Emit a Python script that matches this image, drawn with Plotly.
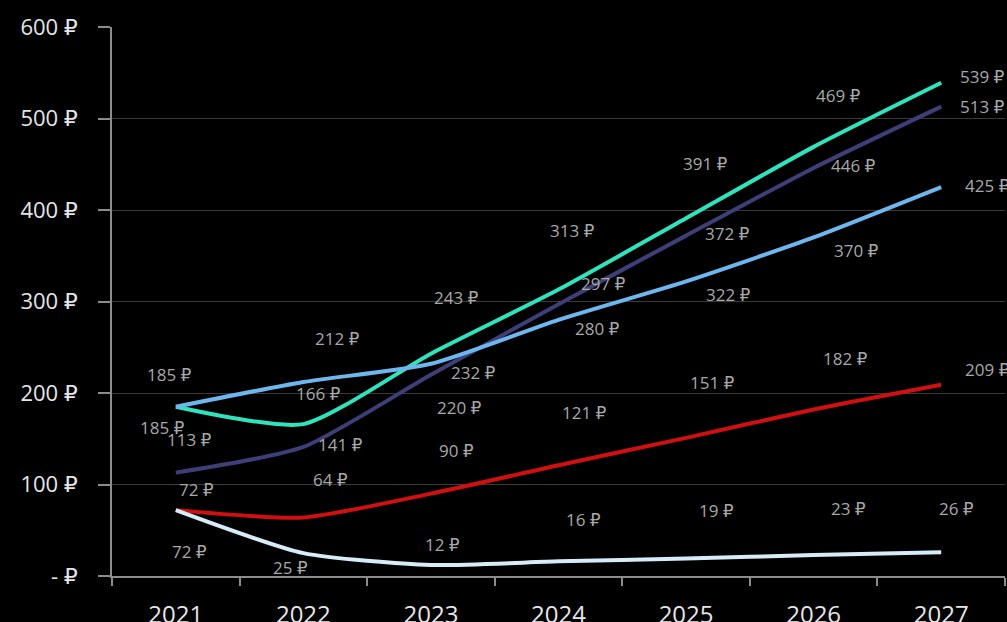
import plotly.graph_objects as go

years = ["2021", "2022", "2023", "2024", "2025", "2026", "2027"]
teal = [185, 166, 243, 313, 391, 469, 539]
navy = [113, 141, 220, 297, 372, 446, 513]
light_blue = [185, 212, 232, 280, 322, 370, 425]
red = [72, 64, 90, 121, 151, 182, 209]
pale = [72, 25, 12, 16, 19, 23, 26]
y_ticks = [0, 100, 200, 300, 400, 500, 600]
y_tick_labels = ["- ₽", "100 ₽", "200 ₽", "300 ₽", "400 ₽", "500 ₽", "600 ₽"]

series = [
    ("teal", teal, "#2fe3bd"),
    ("navy", navy, "#3e3f78"),
    ("light_blue", light_blue, "#6db6ee"),
    ("red", red, "#d01010"),
    ("pale", pale, "#d6ecf8"),
]

# label pixel offsets (dx, dy) relative to each point; dy positive = up
label_offsets = {
    "teal": [(-6, 32), (15, 31), (26, 56), (14, 59), (19, 55), (25, 51), (41, 6)],
    "navy": [(14, 33), (37, 2), (29, -33), (45, 21), (41, 2), (40, 2), (41, 0)],
    "light_blue": [(-13, -21), (34, 44), (43, -9), (39, -9), (42, -13), (43, -13), (46, 2)],
    "red": [(21, 21), (27, 38), (26, 43), (26, 53), (26, 55), (32, 51), (46, 15)],
    "pale": [(14, -41), (-13, -14), (12, 21), (25, 42), (30, 48), (35, 46), (15, 44)],
}

FONT = "Open Sans, DejaVu Sans, sans-serif"

fig = go.Figure()
annotations = []
for name, vals, color in series:
    fig.add_trace(go.Scatter(
        x=years, y=vals, mode="lines", name=name,
        line=dict(color=color, width=4, shape="spline", smoothing=0.6),
        hoverinfo="x+y",
    ))
    for i, v in enumerate(vals):
        dx, dy = label_offsets[name][i]
        annotations.append(dict(
            x=i, y=v, xref="x", yref="y", text=f"{v} ₽", showarrow=False,
            xshift=dx, yshift=dy,
            font=dict(family=FONT, size=17, color="#a8a8a8"),
        ))

fig.update_layout(
    width=1007, height=622,
    paper_bgcolor="#000000", plot_bgcolor="#000000",
    margin=dict(l=112, r=2, t=27, b=46),
    showlegend=False,
    annotations=annotations,
    font=dict(family=FONT, color="#e6e6e6"),
)
fig.update_xaxes(
    type="category", range=[-0.5, 6.5], automargin=False,
    showgrid=False, showline=True, linecolor="#8c8c8c", linewidth=1.5,
    ticks="outside", tickson="boundaries", ticklen=8, tickcolor="#8c8c8c", tickwidth=1.5,
    tickfont=dict(size=24, color="#e6e6e6"), ticklabelstandoff=16,
    zeroline=False,
)
fig.update_yaxes(
    range=[0, 600], tickvals=y_ticks, ticktext=y_tick_labels, automargin=False,
    showgrid=True, gridcolor="#3a3a3a", gridwidth=1.2,
    showline=True, linecolor="#8c8c8c", linewidth=1.5,
    ticks="outside", ticklen=12, tickcolor="#8c8c8c", tickwidth=1.5,
    tickfont=dict(size=22, color="#e6e6e6"), ticklabelstandoff=16,
    zeroline=False,
)

fig.write_html(
    "out.html",
    config={"displayModeBar": False},
    post_script="document.body.style.margin='0';document.body.style.background='#000';document.body.style.overflow='hidden';",
)
